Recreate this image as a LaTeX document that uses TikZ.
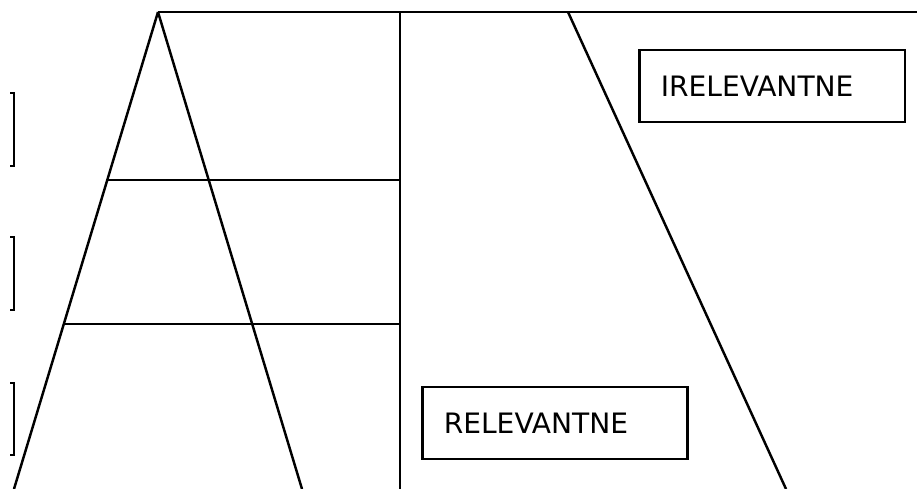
\documentclass[tikz,border=0pt]{standalone}
\usepackage{fontspec}
\setmainfont{DejaVu Sans}
\usetikzlibrary{calc}

\begin{document}
\begin{tikzpicture}[
  x=0.02cm,y=-0.02cm,
  line width=1.4pt,
  labelbox/.style={draw,line width=1.4pt,minimum height=1.44cm,
               text width=4.45cm,align=left,inner xsep=0.43cm,
               font=\fontsize{16}{18}\selectfont},
  tick/.style={line width=1.5pt}
]
\useasboundingbox (0,0) rectangle (917,489);
\coordinate (apex) at (158,12);
\coordinate (topr) at (917,12);
\coordinate (bl) at (14,489);
\coordinate (br) at (302,489);
\coordinate (vtop) at (400,12);
\coordinate (vbot) at (400,489);
\coordinate (stop) at (568,12);
\coordinate (sbot) at (786,489);
% frame lines
\draw (apex) -- (topr);
\draw (apex) -- (bl);
\draw (apex) -- (br);
\draw (vtop) -- (vbot);
\draw (stop) -- (sbot);
\foreach \t/\n in {0.352/a,0.654/b}{
  \coordinate (h\n) at ($(apex)!\t!(bl)$);
  \draw (h\n) -- (h\n -| vtop);
}
% brackets
\foreach \ya/\yb in {93/166,237/310,383/455}{
  \draw[tick] (10,\ya) -- (14,\ya) -- (14,\yb) -- (10,\yb);
}
\node[labelbox] (irel) at (772,86) {IRELEVANTNE};
\node[labelbox] (rel) at (555,423) {RELEVANTNE};
\end{tikzpicture}
\end{document}
